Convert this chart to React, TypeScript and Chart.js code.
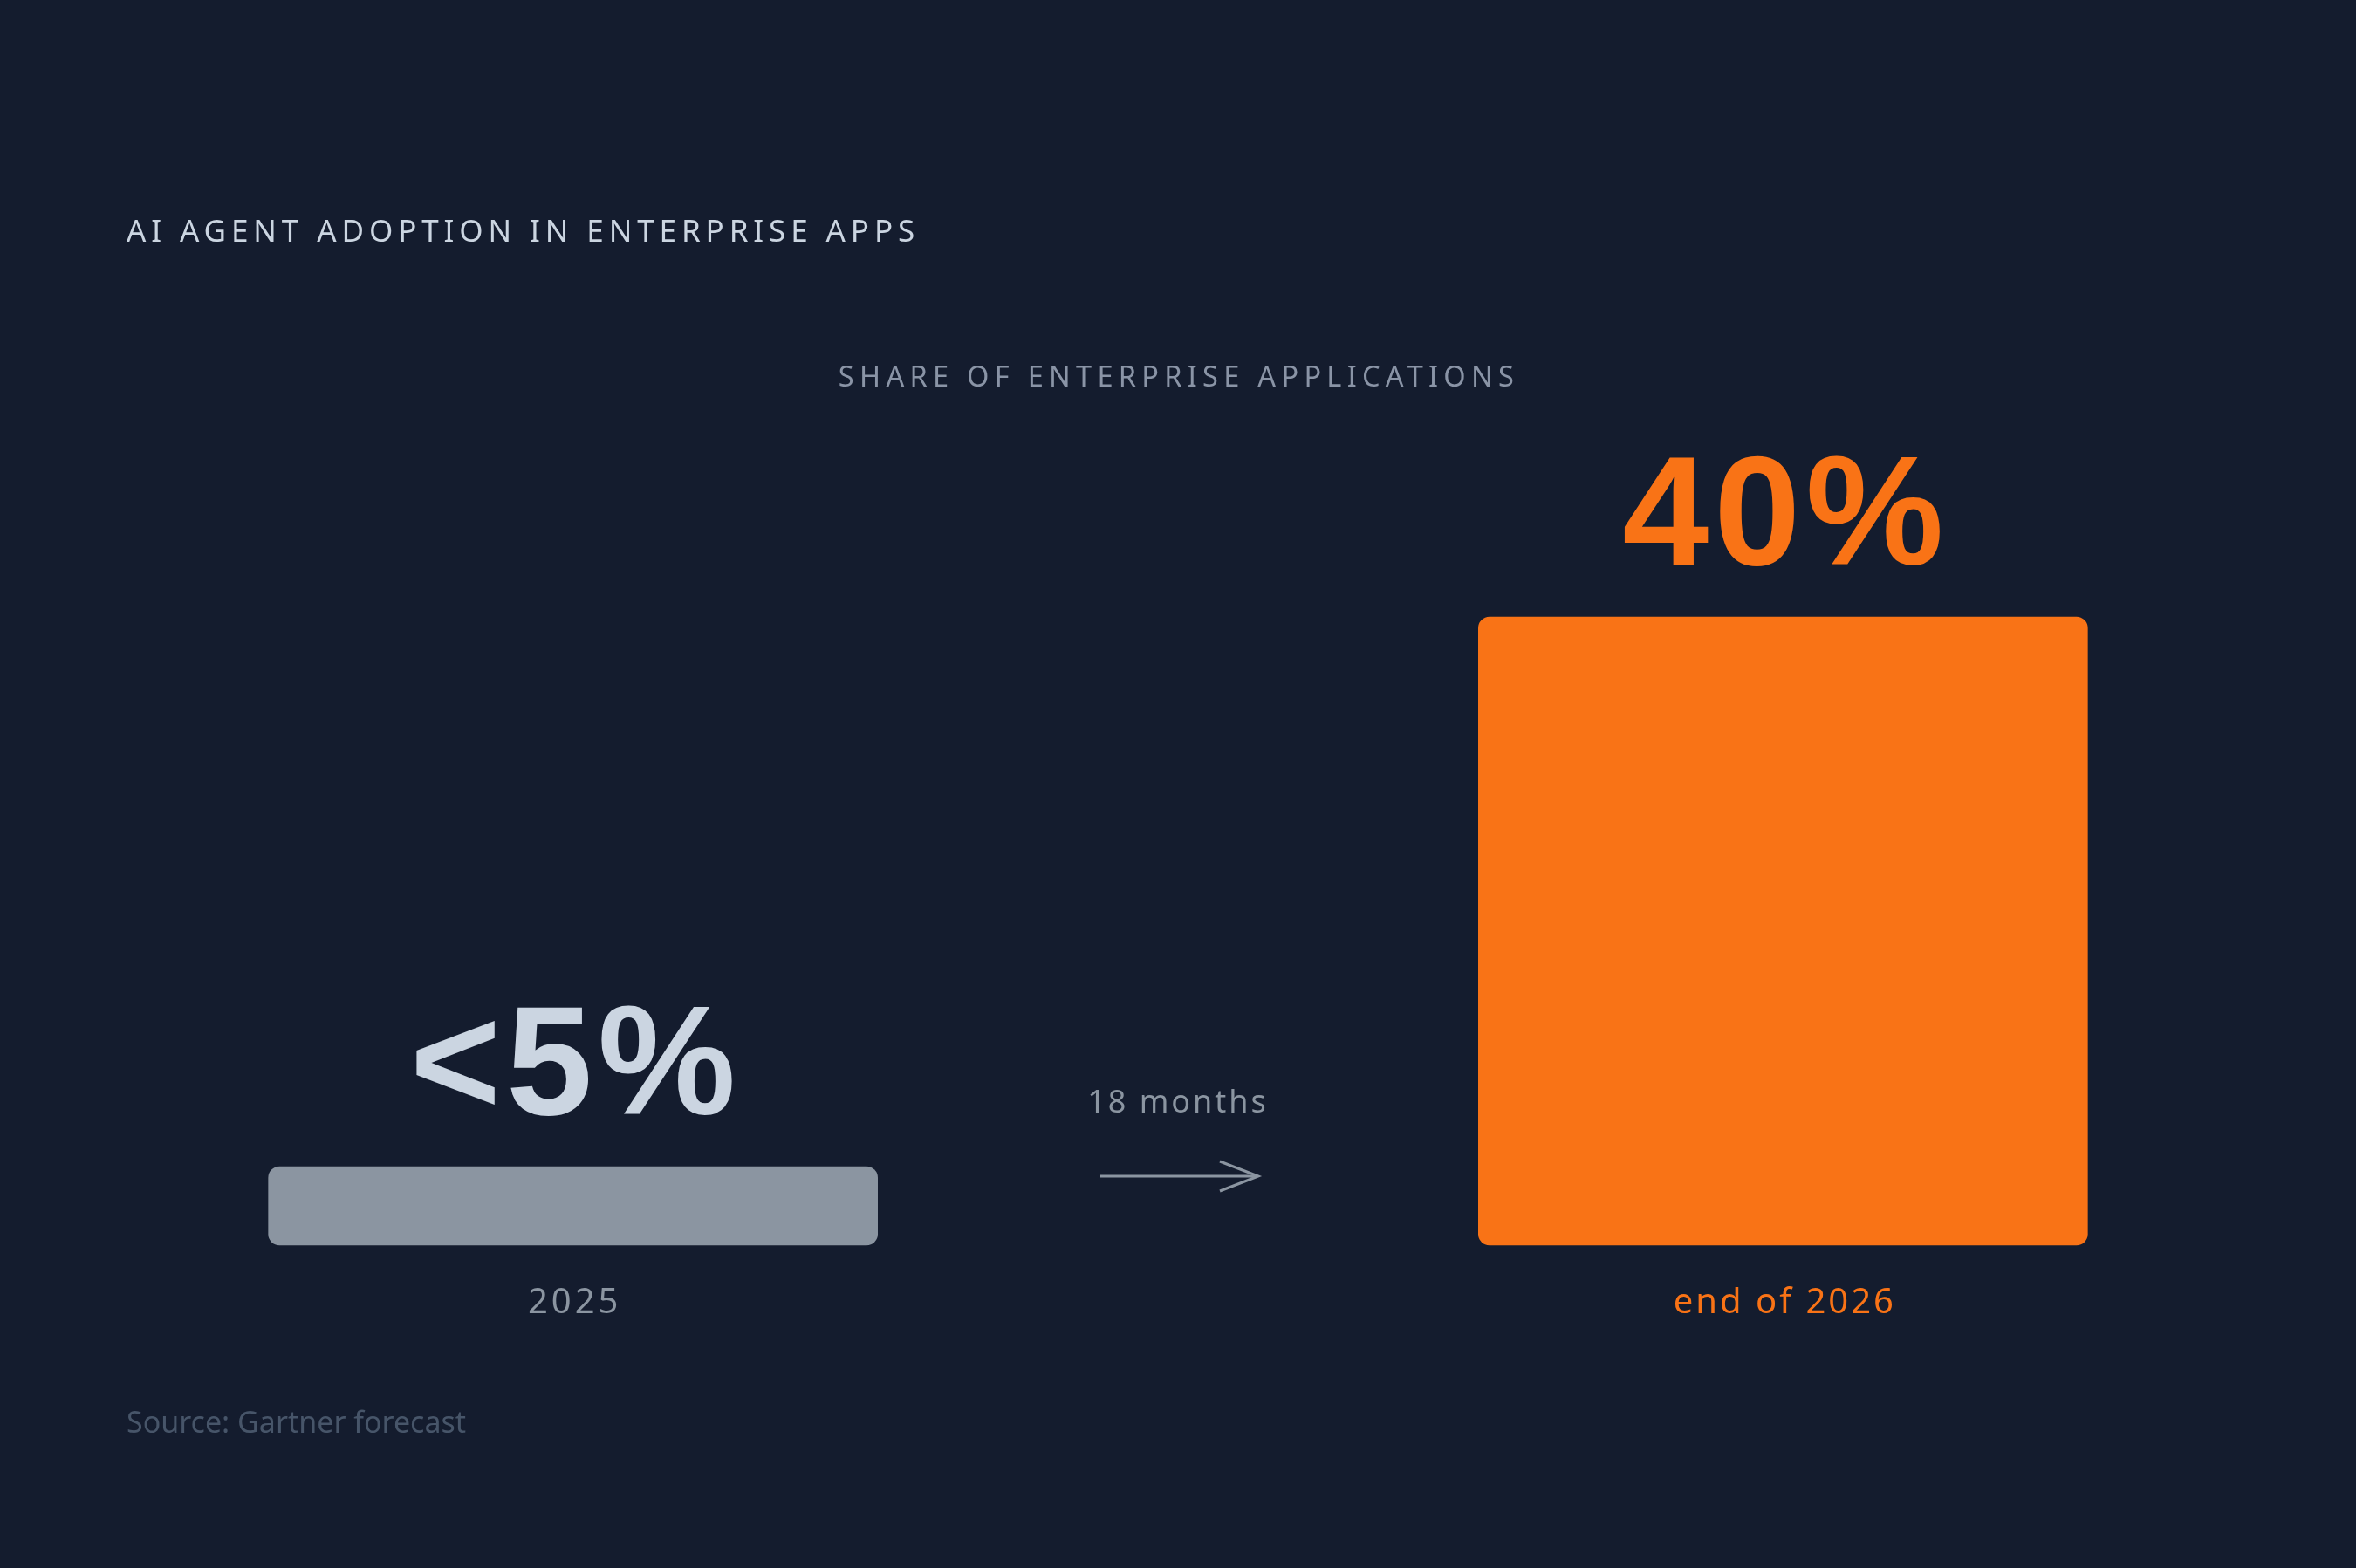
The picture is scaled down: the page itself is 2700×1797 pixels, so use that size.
import React, { useEffect, useRef } from "react";
import { Chart, registerables } from "chart.js";

Chart.register(...registerables);

const titleText = "AI AGENT ADOPTION IN ENTERPRISE APPS";
const subtitleText = "SHARE OF ENTERPRISE APPLICATIONS";
const sourceText = "Source: Gartner forecast";
const categories = ["2025", "", "end of 2026"];
const shareValues: (number | null)[] = [5, null, 40];
const valueLabels = ["<5%", "", "40%"];
const gapLabel = "18 months";

const BG = "#141c2e";
const GRAY_BAR = "#8b95a1";
const ORANGE = "#f97316";
const barColors = [GRAY_BAR, "rgba(0,0,0,0)", ORANGE];
const valueColors = ["#cbd5e1", "#cbd5e1", ORANGE];
const labelColors = [GRAY_BAR, GRAY_BAR, ORANGE];

const W = 2700;
const H = 1797;
const SANS = "'Noto Sans', 'Open Sans', sans-serif";

const labelsPlugin = {
  id: "labelsPlugin",
  afterDatasetsDraw(chart: any) {
    const ctx = chart.ctx as CanvasRenderingContext2D;
    const meta = chart.getDatasetMeta(0);
    const area = chart.chartArea;
    const xs = chart.scales.x;
    ctx.save();
    meta.data.forEach((bar: any, i: number) => {
      if (shareValues[i] == null) return;
      const x = bar.x;
      // value label
      ctx.font = "bold 178px 'Liberation Sans', Arial, sans-serif";
      (ctx as any).letterSpacing = "6px";
      ctx.fillStyle = valueColors[i];
      ctx.textAlign = "center";
      ctx.textBaseline = "alphabetic";
      ctx.fillText(valueLabels[i], x + 3, bar.y - 60);
      // category label
      ctx.font = `40px ${SANS}`;
      (ctx as any).letterSpacing = i === 0 ? "4px" : "3px";
      ctx.fillStyle = labelColors[i];
      ctx.textBaseline = "middle";
      ctx.fillText(categories[i], x + 2, area.bottom + 67);
    });
    // middle gap annotation
    const mx = xs.getPixelForValue(1);
    ctx.font = `36px ${SANS}`;
    (ctx as any).letterSpacing = "3px";
    ctx.fillStyle = GRAY_BAR;
    ctx.textAlign = "center";
    ctx.textBaseline = "middle";
    ctx.fillText(gapLabel, mx, area.bottom - 162);
    const ay = area.bottom - 79;
    ctx.strokeStyle = GRAY_BAR;
    ctx.lineWidth = 3;
    ctx.beginPath();
    ctx.moveTo(mx - 89, ay);
    ctx.lineTo(mx + 91, ay);
    ctx.stroke();
    ctx.beginPath();
    ctx.moveTo(mx + 48, ay - 17);
    ctx.lineTo(mx + 92, ay);
    ctx.lineTo(mx + 48, ay + 17);
    ctx.stroke();
    ctx.restore();
  },
};

export default function App() {
  const canvasRef = useRef<HTMLCanvasElement | null>(null);

  useEffect(() => {
    if (!canvasRef.current) return;
    const chart = new Chart(canvasRef.current, {
      type: "bar",
      data: {
        labels: categories,
        datasets: [
          {
            data: shareValues as any,
            backgroundColor: barColors,
            borderRadius: 13,
            borderSkipped: false,
            barThickness: 698,
            clip: false as any,
          },
        ],
      },
      options: {
        animation: false,
        responsive: false,
        maintainAspectRatio: false,
        layout: {
          padding: { top: 707, bottom: 370, left: 310, right: 310 },
        },
        plugins: {
          legend: { display: false },
          tooltip: { enabled: false },
          title: { display: false },
        },
        scales: {
          x: { display: false },
          y: { display: false, min: 0, max: 40 },
        },
      },
      plugins: [labelsPlugin],
    });
    return () => chart.destroy();
  }, []);

  return (
    <div
      style={{
        position: "absolute",
        left: 0,
        top: 0,
        width: W,
        height: H,
        background: BG,
        overflow: "hidden",
      }}
    >
      <canvas
        ref={canvasRef}
        width={W}
        height={H}
        style={{ position: "absolute", left: 0, top: 0, width: W, height: H }}
      />
      <div
        style={{
          position: "absolute",
          left: 145,
          top: 263,
          transform: "translateY(-50%)",
          fontFamily: SANS,
          fontSize: 35,
          letterSpacing: "5.9px",
          color: "#cbd5e1",
          whiteSpace: "nowrap",
          lineHeight: 1,
        }}
      >
        {titleText}
      </div>
      <div
        style={{
          position: "absolute",
          left: 1351,
          top: 431,
          transform: "translate(-50%, -50%)",
          fontFamily: SANS,
          fontSize: 32.5,
          letterSpacing: "6.3px",
          color: "#8a94a6",
          whiteSpace: "nowrap",
          lineHeight: 1,
        }}
      >
        {subtitleText}
      </div>
      <div
        style={{
          position: "absolute",
          left: 145,
          top: 1629,
          transform: "translateY(-50%)",
          fontFamily: SANS,
          fontSize: 34,
          color: "#475569",
          whiteSpace: "nowrap",
          lineHeight: 1,
        }}
      >
        {sourceText}
      </div>
    </div>
  );
}
